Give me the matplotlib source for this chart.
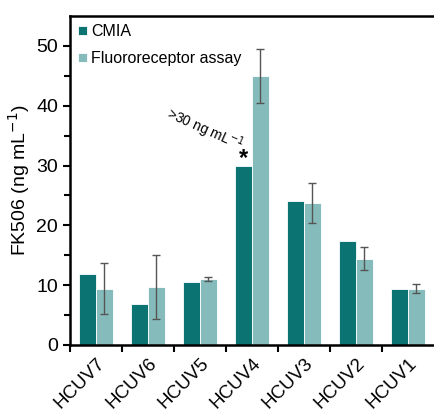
import matplotlib
matplotlib.use("Agg")
import matplotlib.pyplot as plt
import numpy as np

plt.rcParams['font.family'] = ['Liberation Sans', 'DejaVu Sans']

samples = ['HCUV7', 'HCUV6', 'HCUV5', 'HCUV4', 'HCUV3', 'HCUV2', 'HCUV1']
cmia = [11.9, 6.9, 10.5, 30.0, 24.0, 17.4, 9.4]
fluoro = [9.4, 9.7, 11.0, 45.0, 23.7, 14.4, 9.4]
fluoro_err = [4.3, 5.3, 0.3, 4.5, 3.3, 1.9, 0.75]

c_dark = '#0b7472'
c_light = '#86bbbc'

fig = plt.figure(figsize=(4.34, 4.12), dpi=100)
ax = fig.add_axes([0.161, 0.163, 0.839, 0.798])

x = np.arange(len(samples))
w = 0.32
ax.bar(x - 0.163, cmia, w, color=c_dark, edgecolor='white', linewidth=0.6, label='CMIA')
ax.bar(x + 0.163, fluoro, w, color=c_light, edgecolor='white', linewidth=0.6,
       label='Fluororeceptor assay')
ax.errorbar(x + 0.163, fluoro, yerr=fluoro_err, fmt='none', ecolor='#555555',
            elinewidth=1, capsize=3, capthick=1)

ax.set_xlim(-0.5, 6.5)
ax.set_ylim(0, 55)
ax.set_yticks([0, 10, 20, 30, 40, 50])
ax.set_yticks([5, 15, 25, 35, 45], minor=True)
ax.set_xticks(x - 0.5)
ax.set_xticklabels([])
ax.set_xticks(x, minor=True)
ax.set_xticklabels(samples, minor=True, rotation=45, ha='right', rotation_mode='anchor',
                   fontsize=13.5)
ax.tick_params(axis='x', which='minor', length=0, pad=7)
ax.tick_params(axis='x', which='major', length=5, width=1.5)
ax.tick_params(axis='y', which='major', length=5, width=1.5, labelsize=14)
ax.tick_params(axis='y', which='minor', length=4, width=1.5)

for s in ['left', 'bottom', 'top']:
    ax.spines[s].set_linewidth(1.8)
ax.spines['right'].set_visible(False)

ax.set_ylabel('FK506 (ng mL$^{-1}$)', fontsize=14, labelpad=3)

ax.legend(loc='upper left', frameon=False, fontsize=11.5, handlelength=0.55,
          handleheight=0.55, handletextpad=0.3, labelspacing=0.75,
          borderaxespad=0.1)

ax.text(2.837, 31.1, '*', fontsize=17, fontweight='bold', ha='center', va='center')
ax.text(2.09, 36.0, '>30 ng mL$^{-1}$', fontsize=10, rotation=-24,
        ha='center', va='center')

fig.savefig('out.png', dpi=100)
